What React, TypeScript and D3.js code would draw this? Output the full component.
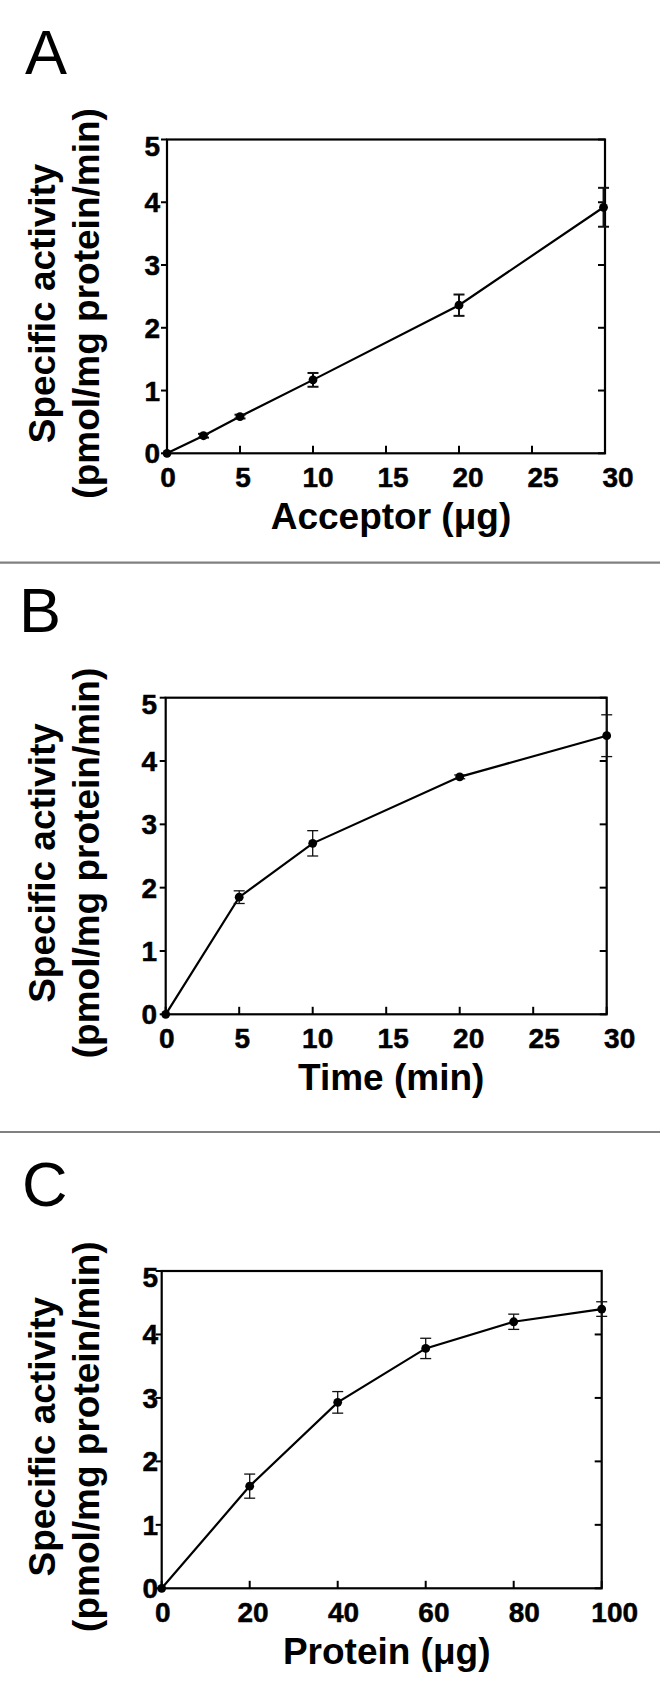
import React, { useRef, useEffect } from "react";
import * as d3 from "d3";

// Panel A - acceptor dependence
const acceptorX = [0, 2.5, 5, 10, 20, 29.9];
const acceptorY = [0, 0.28, 0.585, 1.17, 2.36, 3.92];
const acceptorErr = [0, 0.03, 0.03, 0.11, 0.17, 0.31];

// Panel B - time course
const timeX = [0, 5, 10, 20, 30];
const timeY = [0, 1.85, 2.7, 3.75, 4.4];
const timeErr = [0, 0.1, 0.2, 0.03, 0.33];

// Panel C - protein dependence
const proteinX = [0, 20, 40, 60, 80, 100];
const proteinY = [0, 1.61, 2.93, 3.78, 4.2, 4.4];
const proteinErr = [0, 0.19, 0.17, 0.16, 0.12, 0.115];

const xTicks30 = [0, 5, 10, 15, 20, 25, 30];
const xTicks100 = [0, 20, 40, 60, 80, 100];
const yTicks = [0, 1, 2, 3, 4, 5];

const yTitle1 = "Specific activity";
const yTitle2 = "(pmol/mg protein/min)";

const FONT = "'Liberation Sans', Arial, Helvetica, sans-serif";

const panels = [
    {
        letter: "A", letterX: 25, letterY: 74,
        left: 167, right: 605, top: 139.5, bottom: 453.3,
        xMax: 30, xTicks: xTicks30, xTitle: "Acceptor (\u03bcg)",
        xs: acceptorX, ys: acceptorY, errs: acceptorErr,
        yLabelX: 160, errWidth: 2,
    },
    {
        letter: "B", letterX: 19, letterY: 632,
        left: 165.7, right: 606.7, top: 697.7, bottom: 1014.3,
        xMax: 30, xTicks: xTicks30, xTitle: "Time (min)",
        xs: timeX, ys: timeY, errs: timeErr,
        yLabelX: 157, errWidth: 1.3,
    },
    {
        letter: "C", letterX: 22, letterY: 1206,
        left: 161.7, right: 601.7, top: 1271, bottom: 1588.3,
        xMax: 100, xTicks: xTicks100, xTitle: "Protein (\u03bcg)",
        xs: proteinX, ys: proteinY, errs: proteinErr,
        yLabelX: 158, errWidth: 1.3,
    },
];

const separators = [562.7, 1132];

function Figure() {
    const svgRef = useRef<SVGSVGElement>(null);

    useEffect(() => {
        const svg = d3.select(svgRef.current);
        svg.selectAll("*").remove();

        svg.append("rect").attr("width", 660).attr("height", 1701).attr("fill", "#fff");

        // grey separator lines between panels
        separators.forEach((y) => {
            svg.append("line")
                .attr("x1", 0).attr("x2", 660)
                .attr("y1", y).attr("y2", y)
                .attr("stroke", "#808080")
                .attr("stroke-width", 2.2);
        });

        panels.forEach((p) => {
            const g = svg.append("g");
            const x = d3.scaleLinear().domain([0, p.xMax]).range([p.left, p.right]);
            const y = d3.scaleLinear().domain([0, 5]).range([p.bottom, p.top]);
            // tick labels in the original drift slightly right of their ticks
            const xLab = x.copy().range([p.left + 1, p.right + 13]);

            // panel letter
            g.append("text")
                .attr("x", p.letterX).attr("y", p.letterY)
                .attr("font-family", FONT)
                .attr("font-size", 63)
                .text(p.letter);

            // frame
            g.append("rect")
                .attr("x", p.left).attr("y", p.top)
                .attr("width", p.right - p.left)
                .attr("height", p.bottom - p.top)
                .attr("fill", "none")
                .attr("stroke", "#000")
                .attr("stroke-width", 2.2);

            // bottom ticks (inward)
            g.selectAll(".xt").data(p.xTicks).join("line")
                .attr("x1", (d) => x(d)).attr("x2", (d) => x(d))
                .attr("y1", p.bottom).attr("y2", p.bottom - 7.5)
                .attr("stroke", "#000").attr("stroke-width", 2);

            // left ticks (outward) and right ticks (inward)
            g.selectAll(".yl").data(yTicks).join("line")
                .attr("x1", p.left - 6).attr("x2", p.left)
                .attr("y1", (d) => y(d)).attr("y2", (d) => y(d))
                .attr("stroke", "#000").attr("stroke-width", 2);
            g.selectAll(".yr").data(yTicks).join("line")
                .attr("x1", p.right - 7).attr("x2", p.right)
                .attr("y1", (d) => y(d)).attr("y2", (d) => y(d))
                .attr("stroke", "#000").attr("stroke-width", 2);

            // tick labels
            g.selectAll(".xl").data(p.xTicks).join("text")
                .attr("x", (d) => xLab(d))
                .attr("y", p.bottom + 33.5)
                .attr("text-anchor", "middle")
                .attr("font-family", FONT)
                .attr("font-weight", "bold")
                .attr("font-size", 28)
                .attr("stroke", "#000")
                .attr("stroke-width", 0.5)
                .text((d) => d);
            g.selectAll(".yLab").data(yTicks).join("text")
                .attr("x", p.yLabelX)
                .attr("y", (d) => Math.max(y(d), p.top + 6) + 10)
                .attr("text-anchor", "end")
                .attr("font-family", FONT)
                .attr("font-weight", "bold")
                .attr("font-size", 28)
                .attr("stroke", "#000")
                .attr("stroke-width", 0.5)
                .text((d) => d);

            // axis titles
            g.append("text")
                .attr("x", (p.left + p.right) / 2 + 5)
                .attr("y", p.bottom + 76)
                .attr("text-anchor", "middle")
                .attr("font-family", FONT)
                .attr("font-weight", "bold")
                .attr("font-size", 37)
                .text(p.xTitle);

            const cy = (p.top + p.bottom) / 2 + 7;
            [yTitle1, yTitle2].forEach((t, i) => {
                g.append("text")
                    .attr("transform", `translate(${55 + i * 44}, ${cy}) rotate(-90)`)
                    .attr("text-anchor", "middle")
                    .attr("font-family", FONT)
                    .attr("font-weight", "bold")
                    .attr("font-size", 37)
                    .text(t);
            });

            const pts = p.xs.map((v, i) => ({ x: v, y: p.ys[i], e: p.errs[i] }));

            // data line
            const lineGen = d3.line<{ x: number; y: number }>()
                .x((d) => x(d.x))
                .y((d) => y(d.y));
            g.append("path")
                .datum(pts)
                .attr("d", lineGen)
                .attr("fill", "none")
                .attr("stroke", "#000")
                .attr("stroke-width", 2.2);

            // error bars
            const eb = g.selectAll(".eb").data(pts.filter((d) => d.e > 0)).join("g");
            eb.append("line")
                .attr("x1", (d) => x(d.x)).attr("x2", (d) => x(d.x))
                .attr("y1", (d) => y(d.y - d.e)).attr("y2", (d) => y(d.y + d.e))
                .attr("stroke", "#111").attr("stroke-width", p.errWidth);
            [-1, 1].forEach((s) => {
                eb.append("line")
                    .attr("x1", (d) => x(d.x) - 5.5).attr("x2", (d) => x(d.x) + 5.5)
                    .attr("y1", (d) => y(d.y + s * d.e)).attr("y2", (d) => y(d.y + s * d.e))
                    .attr("stroke", "#111").attr("stroke-width", p.errWidth);
            });

            // points
            g.selectAll(".pt").data(pts).join("circle")
                .attr("cx", (d) => x(d.x))
                .attr("cy", (d) => y(d.y))
                .attr("r", 4.4)
                .attr("fill", "#000");
        });
    }, []);

    return <svg ref={svgRef} width={660} height={1701} style={{ position: "absolute", left: 0, top: 0 }}></svg>;
}

export default function App() {
    return <Figure />;
}
